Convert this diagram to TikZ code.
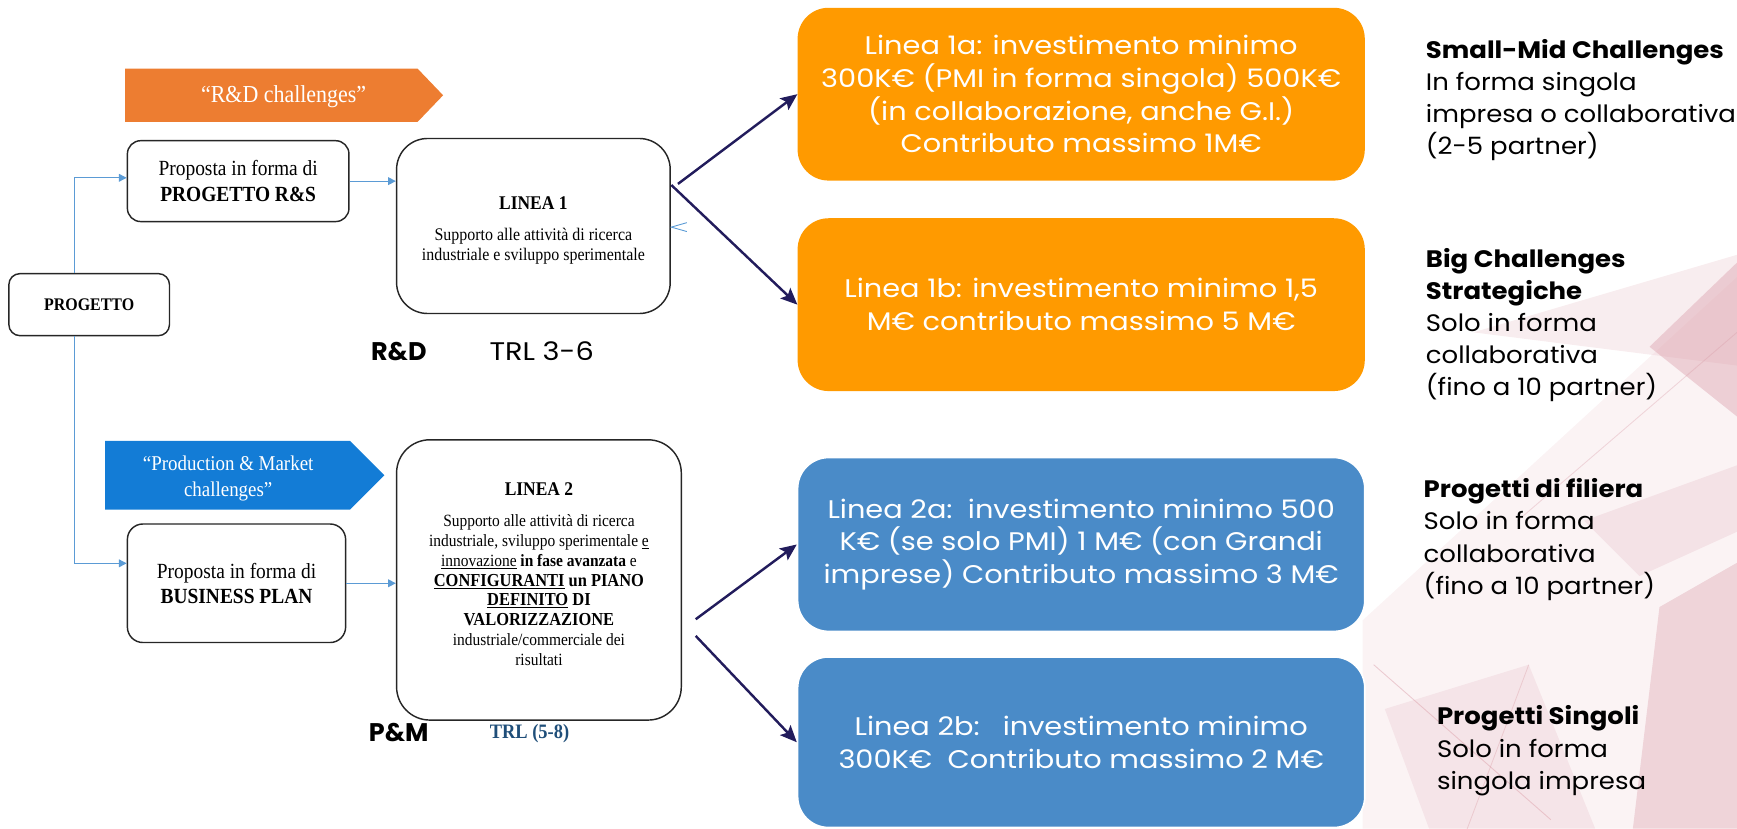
\documentclass[tikz,border=0pt]{standalone}
\usepackage{fontspec}
\setmainfont{Liberation Serif}
\newfontfamily\pop{Poppins}
\newfontfamily\popw[FakeStretch=1.13]{Poppins}
\newfontfamily\pops[FakeStretch=1.09]{Poppins}
\newfontfamily\serc[FakeStretch=0.9]{Liberation Serif}
\usetikzlibrary{arrows.meta,calc}
\definecolor{orR}{HTML}{ED7D31}
\definecolor{blR}{HTML}{137CD6}
\definecolor{orB}{HTML}{FF9A00}
\definecolor{blB}{HTML}{4A8BC8}
\definecolor{lblue}{HTML}{5B9BD5}
\definecolor{navy}{HTML}{221C5C}
\definecolor{trl}{HTML}{1F4E79}
\definecolor{pinkA}{HTML}{E9C3CA}
\definecolor{pinkB}{HTML}{D99AA6}
\tikzset{
  wbox/.style={draw=black!85, line width=1.3pt, fill=white, align=center, inner sep=2pt},
  serif/.style={font=\serc\fontsize{19.5}{23}\selectfont},
  cbox/.style={rounded corners=28pt, align=center, text=white, inner sep=0pt,
     font=\popw\fontsize{23}{29.5}\selectfont},
  lbarrow/.style={draw=lblue, line width=1pt, -{Triangle[width=7pt,length=7pt]}},
  navarrow/.style={draw=navy, line width=2.2pt, -{Stealth[length=15pt,width=13pt,inset=3pt]}},
  side/.style={align=left, anchor=north west, inner sep=0pt, font=\pops\fontsize{21.5}{29}\selectfont},
}
\begin{document}
\begin{tikzpicture}[x=1pt,y=-1pt]
\useasboundingbox (0,0) rectangle (1568,748);
% background decorations
\fill[pinkA, opacity=0.2] (1230,560) -- (1568,250) -- (1568,748) -- (1230,748) -- cycle;
\fill[pinkA, opacity=0.3] (1330,300) -- (1568,230) -- (1568,330) -- cycle;
\fill[pinkB, opacity=0.4] (1489,313) -- (1568,237) -- (1568,376) -- cycle;
\fill[pinkA, opacity=0.35] (1430,470) -- (1568,420) -- (1568,480) -- (1480,520) -- cycle;
\fill[pinkB, opacity=0.35] (1498,548) -- (1568,508) -- (1568,748) -- (1474,748) -- cycle;
\fill[pinkA, opacity=0.3] (1250,640) -- (1380,600) -- (1440,748) -- (1290,748) -- cycle;
\draw[pinkB, opacity=0.45, line width=0.8pt] (1240,600) -- (1400,740);
\draw[pinkB, opacity=0.35, line width=0.8pt] (1370,470) -- (1568,300);
\draw[pinkB, opacity=0.35, line width=0.8pt] (1320,760) -- (1380,600);

% pentagon banners
\fill[orR] (113,62) -- (377,62) -- (400,86) -- (377,110) -- (113,110) -- cycle;
\node[text=white, font=\serc\fontsize{22}{24}\selectfont] (rdch) at (256,87) {“R\&D challenges”};
\fill[blR] (95,398) -- (316,398) -- (347,429) -- (316,460) -- (95,460) -- cycle;
\node[text=white, align=center, font=\serc\fontsize{19}{24}\selectfont] (pmch) at (206,432) {“Production \& Market\\challenges”};

% white boxes
\node[wbox, rounded corners=12pt, minimum width=200pt, minimum height=73pt, serif] (rs) at (215,163.5)
  {Proposta in forma di\\\textbf{PROGETTO R\&S}};
\node[wbox, rounded corners=10pt, minimum width=145pt, minimum height=56pt, font=\serc\fontsize{16}{18}\selectfont] (prog) at (80.5,275)
  {\textbf{PROGETTO}};
\node[wbox, rounded corners=28pt, minimum width=247pt, minimum height=158pt, font=\serc\fontsize{16}{18}\selectfont] (l1) at (481.5,204)
  {\rule{0pt}{19pt}{\fontsize{17.5}{18}\selectfont\textbf{LINEA 1}}\\[10pt]Supporto alle attività di ricerca\\industriale e sviluppo sperimentale};
\node[wbox, rounded corners=14pt, minimum width=197pt, minimum height=107pt, serif] (bp) at (213.5,526.5)
  {Proposta in forma di\\\textbf{BUSINESS PLAN}};
\node[wbox, rounded corners=30pt, minimum width=257pt, minimum height=253pt, font=\serc\fontsize{15.5}{18}\selectfont] (l2) at (486.5,523.5)
  {\rule{0pt}{18pt}{\fontsize{17.5}{18}\selectfont\textbf{LINEA 2}}\\[10pt]Supporto alle attività di ricerca\\
   industriale, sviluppo sperimentale \underline{e}\\
   \underline{innovazione} \textbf{in fase avanzata} e\\
   {\fontsize{16.5}{18}\selectfont\textbf{\underline{CONFIGURANTI} un PIANO}}\\
   {\fontsize{16.5}{18}\selectfont\textbf{\underline{DEFINITO} DI}}\\
   {\fontsize{16.5}{18}\selectfont\textbf{VALORIZZAZIONE}}\\
   industriale/commerciale dei\\risultati\rule[-17pt]{0pt}{0pt}};

% labels under boxes
\node[font=\pop\bfseries\fontsize{23}{24}\selectfont] (rdl) at (360,317) {R\&D};
\node[font=\popw\fontsize{23}{24}\selectfont] (trl1) at (489,317) {TRL 3-6};
\node[font=\pop\bfseries\fontsize{23}{24}\selectfont] (pml) at (360,661) {P\&M};
\node[text=trl, font=\serc\bfseries\fontsize{18.5}{20}\selectfont] (trl2) at (478,662) {TRL (5-8)};

% coloured boxes
\node[cbox, fill=orB, minimum width=512pt, minimum height=156pt] (o1) at (976,85)
  {Linea 1a: investimento minimo\\300K€ (PMI in forma singola) 500K€\\(in collaborazione, anche G.I.)\\Contributo massimo 1M€};
\node[cbox, fill=orB, minimum width=512pt, minimum height=156pt] (o2) at (976,275)
  {Linea 1b: investimento minimo 1,5\\M€ contributo massimo 5 M€};
\node[cbox, fill=blB, draw=white, line width=1.5pt, minimum width=512pt, minimum height=157pt] (b1) at (976,491.5)
  {Linea 2a:\ \ investimento minimo 500\\K€ (se solo PMI) 1 M€ (con Grandi\\imprese) Contributo massimo 3 M€};
\node[cbox, fill=blB, draw=white, line width=1.5pt, minimum width=512pt, minimum height=154pt] (b2) at (976,670)
  {Linea 2b:\ \ \ investimento minimo\\300K€\ \ Contributo massimo 2 M€};

% side texts
\node[side] (t1) at (1287,35) {\textbf{Small-Mid Challenges}\\In forma singola\\impresa o collaborativa\\(2-5 partner)};
\node[side] (t2) at (1287,224) {\textbf{Big Challenges}\\\textbf{Strategiche}\\Solo in forma\\collaborativa\\(fino a 10 partner)};
\node[side] (t3) at (1285,432) {\textbf{Progetti di filiera}\\Solo in forma\\collaborativa\\(fino a 10 partner)};
\node[side] (t4) at (1297,637) {\textbf{Progetti Singoli}\\Solo in forma\\singola impresa};

% light blue connectors
\draw[lbarrow] ([xshift=-13.5pt]prog.north) |- ([yshift=3pt]rs.west);
\draw[lbarrow] ([xshift=-13.5pt]prog.south) |- ([yshift=18pt]bp.west);
\draw[lbarrow] (rs.east) -- (rs.east -| l1.west);
\draw[lbarrow] (bp.east) -- (bp.east -| l2.west);
\coordinate (lt) at (606,205);
\draw[lblue, line width=0.8pt] ([shift={(14,-4)}]lt) -- (lt) -- ([shift={(14,4)}]lt);

% navy arrows
\coordinate (s1) at (612,166);
\coordinate (s2) at (606,167);
\coordinate (s3) at (628,559);
\coordinate (s4) at (628,574);
\draw[navarrow] (s1) -- (o1.west);
\draw[navarrow] (s2) -- (o2.west);
\draw[navarrow] (s3) -- (b1.west);
\draw[navarrow] (s4) -- (b2.west);
\end{tikzpicture}
\end{document}
